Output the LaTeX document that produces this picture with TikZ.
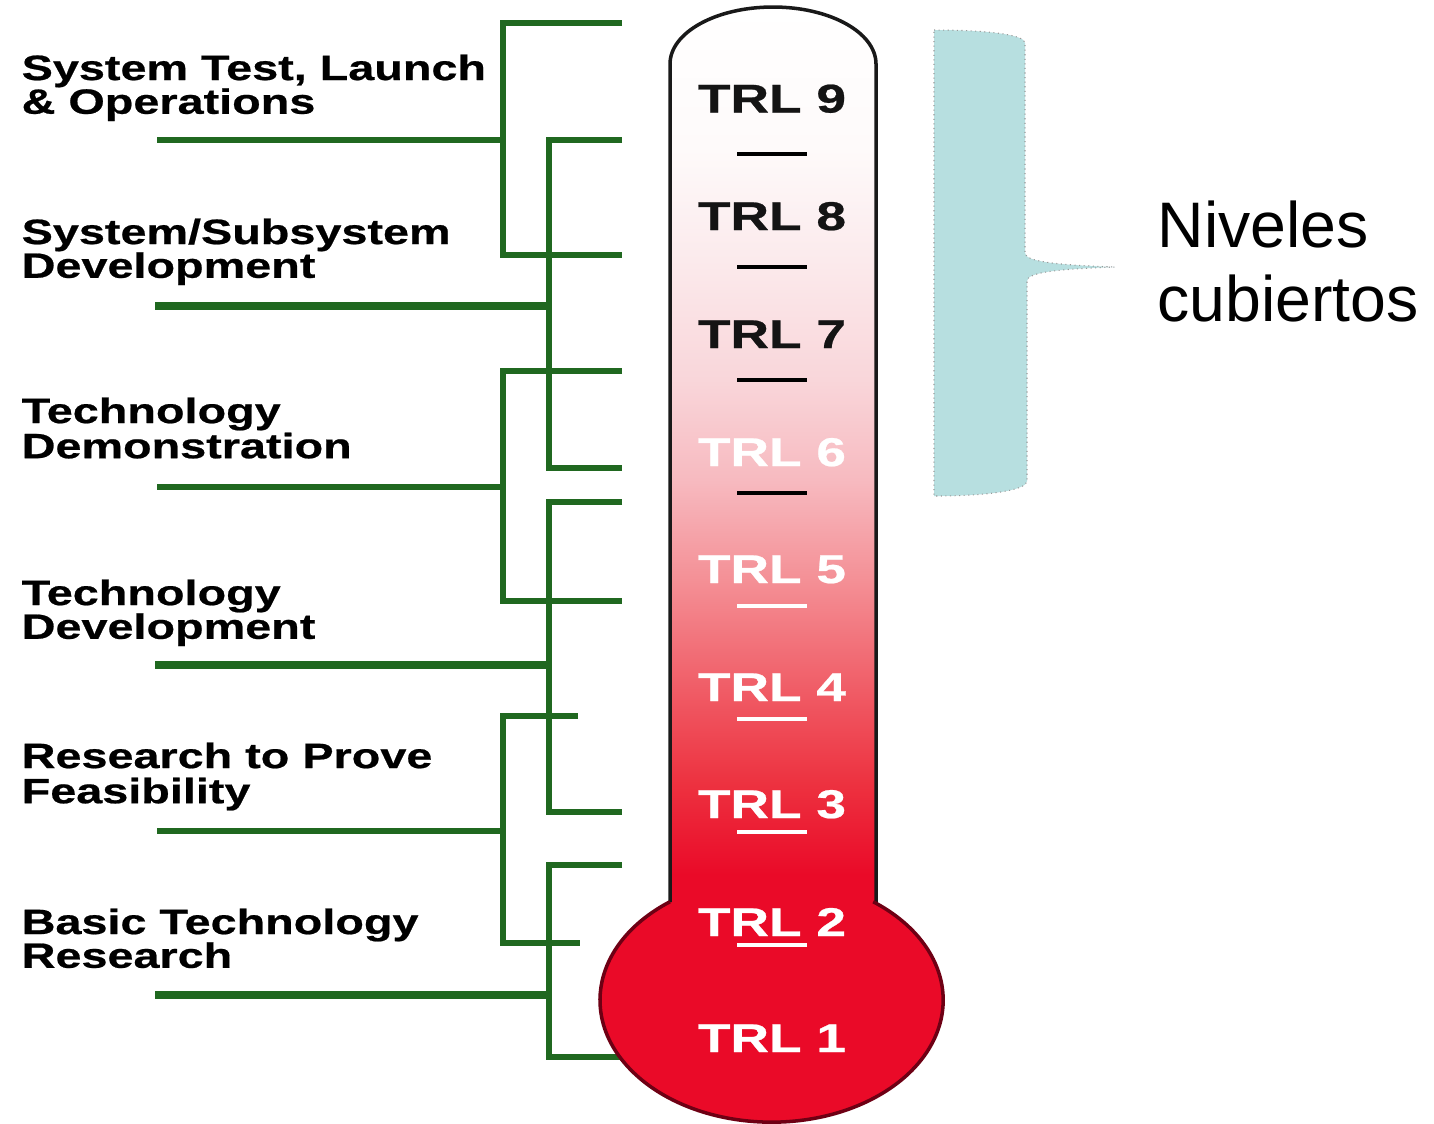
\documentclass[tikz,border=0pt]{standalone}
\usepackage{fontspec}
\setmainfont{Liberation Sans}
\newfontfamily\lblfont[FakeStretch=1.33, BoldFeatures={FakeBold=0.6}]{Liberation Sans}
\definecolor{trlgreen}{RGB}{32,104,32}
\definecolor{bulbred}{RGB}{234,10,40}
\definecolor{bulbedge}{RGB}{110,0,20}
\definecolor{bracefill}{RGB}{183,223,224}
\definecolor{c0}{RGB}{255,255,255}
\definecolor{c1}{RGB}{254,250,250}
\definecolor{c2}{RGB}{251,234,236}
\definecolor{c3}{RGB}{249,214,218}
\definecolor{c4}{RGB}{247,186,192}
\definecolor{c5}{RGB}{244,144,150}
\definecolor{c6}{RGB}{240,92,102}
\definecolor{c7}{RGB}{237,50,64}
\definecolor{c8}{RGB}{234,10,40}
\pgfdeclareverticalshading{tubeshade}{100bp}{color(0bp)=(c8); color(25bp)=(c8); color(28bp)=(c8); color(33bp)=(c7); color(38bp)=(c6); color(44bp)=(c5); color(49.4bp)=(c4); color(54.8bp)=(c3); color(61.3bp)=(c2); color(67.3bp)=(c1); color(75bp)=(c0); color(100bp)=(c0)}
\newcommand{\stackln}[3]{\vtop{\baselineskip=#1\lineskiplimit=-100pt\lineskip=0pt\hbox{#2}\hbox{#3}}}
\tikzset{
  gline/.style={draw=trlgreen, line width=1.55pt},
  gthick/.style={draw=trlgreen, line width=2.4pt},
  lbl/.style={anchor=base west, inner sep=0pt, font=\lblfont\bfseries\fontsize{10}{11}\selectfont, text=black},
  trl/.style={anchor=base, inner sep=0pt, font=\lblfont\bfseries\fontsize{11.4}{12}\selectfont},
  tick/.style={line width=1.1pt},
}
\begin{document}
\begin{tikzpicture}[x=0.01cm,y=-0.01cm]
\useasboundingbox (0,0) rectangle (1434,1123);
\fill[white] (0,0) rectangle (1434,1123);
% green brackets
\draw[gline] (622,23) -| (503,255) -- (622,255);
\draw[gline] (157,140) -- (503,140);
\draw[gline] (622,140) -| (549,468) -- (622,468);
\draw[gthick] (155,306) -- (549,306);
\draw[gline] (622,371) -| (503,601) -- (622,601);
\draw[gline] (157,487) -- (503,487);
\draw[gline] (622,502) -| (549,812) -- (622,812);
\draw[gthick] (155,665) -- (549,665);
\draw[gline] (578,716) -| (503,943) -- (580,943);
\draw[gline] (157,831) -- (503,831);
\draw[gline] (622,865) -| (549,1057) -- (630,1057);
\draw[gthick] (155,995) -- (549,995);
% bulb fill
\fill[bulbred] (771.5,1000) ellipse [x radius=1.715cm, y radius=1.22cm];
% thermometer tube
\shade[shading=tubeshade] (670,930) -- (670,64) .. controls (670,32.5) and (716,7) .. (773,7) .. controls (830,7) and (876,32.5) .. (876,64) -- (876,930) -- cycle;
\draw[line width=1pt, draw=black!90] (670,902) -- (670,64) .. controls (670,32.5) and (716,7) .. (773,7) .. controls (830,7) and (876,32.5) .. (876,64) -- (876,902);
% bulb outline
\draw[draw=bulbedge, line width=1pt] (670,901.7) arc [start angle=126.3, end angle=413.7, x radius=1.715cm, y radius=1.22cm];
% ticks
\foreach \yy in {154,267,380,493} \draw[tick, black] (737,\yy) -- (807,\yy);
\foreach \yy in {606,719,832,945} \draw[tick, white] (737,\yy) -- (807,\yy);
% TRL labels
\node[trl, text=black!92] (t9) at (772,112.5) {TRL 9};
\node[trl, text=black!92] (t8) at (772,230) {TRL 8};
\node[trl, text=black!92] (t7) at (772,348) {TRL 7};
\node[trl, text=white] (t6) at (772,466) {TRL 6};
\node[trl, text=white] (t5) at (772,583) {TRL 5};
\node[trl, text=white] (t4) at (772,701) {TRL 4};
\node[trl, text=white] (t3) at (772,818) {TRL 3};
\node[trl, text=white] (t2) at (772,936) {TRL 2};
\node[trl, text=white] (t1) at (772,1052) {TRL 1};
% left labels
\node[lbl] (l1) at (21,80) {\stackln{9.6pt}{System Test, Launch}{\& Operations}};
\node[lbl] (l2) at (21,244) {\stackln{9.6pt}{System/Subsystem}{Development}};
\node[lbl] (l3) at (21,423) {\stackln{10pt}{Technology}{Demonstration}};
\node[lbl] (l4) at (21,605) {\stackln{9.6pt}{Technology}{Development}};
\node[lbl] (l5) at (21,768) {\stackln{10pt}{Research to Prove}{Feasibility}};
\node[lbl] (l6) at (21,934) {\stackln{9.6pt}{Basic Technology}{Research}};
% brace
\draw[fill=bracefill, draw=gray!80, line width=0.3pt, densely dotted]
  (934,30) .. controls (990,30) and (1025,35) .. (1025,43) -- (1025,253)
  .. controls (1025,262) and (1060,265) .. (1115,267)
  .. controls (1060,269) and (1027,272) .. (1027,281) -- (1027,481)
  .. controls (1027,490) and (990,496) .. (934,496) -- cycle;
\node[anchor=base west, inner sep=0pt, font=\fontsize{18.3}{21}\selectfont] (niv) at (1157,247) {\stackln{21.3pt}{Niveles}{cubiertos}};
\end{tikzpicture}
\end{document}
